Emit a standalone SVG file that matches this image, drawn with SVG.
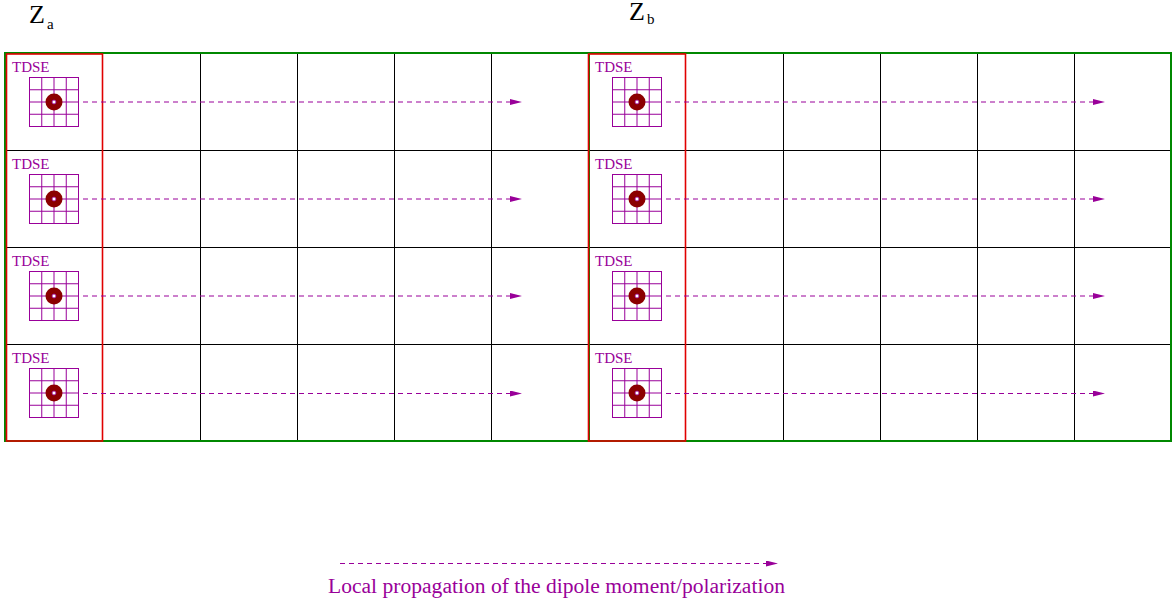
<svg xmlns="http://www.w3.org/2000/svg" width="1172" height="602" viewBox="0 0 1172 602">
  <style>
    .grid { stroke: #000; stroke-width: 1; fill: none; }
    .mesh { stroke: #990099; stroke-width: 1; fill: none; }
    .prop { stroke: #990099; stroke-width: 1; stroke-dasharray: 5 4; fill: none; }
    .atom { fill: #8b0000; }
    .core { fill: #fff; stroke: #990099; stroke-width: 0.8; }
  </style>
  <defs>
    <marker id="head" markerWidth="12" markerHeight="6" refX="0" refY="3" orient="auto" markerUnits="userSpaceOnUse">
      <path d="M0,0 L12,3 L0,6 Z" fill="#990099"/>
    </marker>
    <!-- one TDSE solver cell: label, 4x4 mesh and the atom -->
    <g id="tdse">
      <text x="7" y="19" font-size="15" font-family="'Liberation Serif', 'Times New Roman', serif" fill="#990099">TDSE</text>
      <path class="mesh" d="M24,24.5 h49 M24,36.75 h49 M24,49 h49 M24,61.25 h49 M24,73.5 h49 M24.5,24 v50 M36.75,24 v50 M49,24 v50 M61.25,24 v50 M73.5,24 v50"/>
      <circle class="atom" cx="49" cy="49" r="8.5"/>
      <circle class="core" cx="49" cy="49" r="2"/>
    </g>
  </defs>

  <!-- axis labels -->
  <g id="label-za" font-family="'Liberation Serif', 'Times New Roman', serif" fill="#000">
    <text x="29" y="23" font-size="26">Z</text>
    <text x="47" y="29" font-size="15">a</text>
  </g>
  <g id="label-zb" font-family="'Liberation Serif', 'Times New Roman', serif" fill="#000">
    <text x="629" y="20" font-size="26">Z</text>
    <text x="647" y="24" font-size="15">b</text>
  </g>

  <!-- propagation grid -->
  <g id="grid">
    <path class="grid" d="M5,150.5 H1171 M5,247.5 H1171 M5,344.5 H1171"/>
    <path class="grid" d="M200.5,53 V441 M297.5,53 V441 M394.5,53 V441 M491.5,53 V441 M783.5,53 V441 M880.5,53 V441 M977.5,53 V441 M1074.5,53 V441"/>
    <rect x="5" y="53" width="1166" height="388" fill="none" stroke="#008800" stroke-width="2"/>
    <line x1="589.5" y1="53" x2="589.5" y2="441" stroke="#008800" stroke-width="1"/>
  </g>

  <!-- TDSE columns -->
  <g id="column-za">
    <rect x="6.5" y="54" width="96" height="387" fill="none" stroke="#e00000" stroke-width="1.6"/>
    <use href="#tdse" x="5" y="53"/>
    <use href="#tdse" x="5" y="150"/>
    <use href="#tdse" x="5" y="247"/>
    <use href="#tdse" x="5" y="344"/>
  </g>
  <g id="column-zb">
    <rect x="588.5" y="54" width="97" height="387" fill="none" stroke="#e00000" stroke-width="1.6"/>
    <use href="#tdse" x="588" y="53"/>
    <use href="#tdse" x="588" y="150"/>
    <use href="#tdse" x="588" y="247"/>
    <use href="#tdse" x="588" y="344"/>
  </g>

  <!-- local propagation connectors -->
  <g id="connectors">
    <line class="prop" x1="83" y1="102" x2="510" y2="102" marker-end="url(#head)"/>
    <line class="prop" x1="83" y1="199" x2="510" y2="199" marker-end="url(#head)"/>
    <line class="prop" x1="83" y1="296" x2="510" y2="296" marker-end="url(#head)"/>
    <line class="prop" x1="83" y1="393.5" x2="510" y2="393.5" marker-end="url(#head)"/>
    <line class="prop" x1="666" y1="102" x2="1093" y2="102" marker-end="url(#head)"/>
    <line class="prop" x1="666" y1="199" x2="1093" y2="199" marker-end="url(#head)"/>
    <line class="prop" x1="666" y1="296" x2="1093" y2="296" marker-end="url(#head)"/>
    <line class="prop" x1="666" y1="393.5" x2="1093" y2="393.5" marker-end="url(#head)"/>
  </g>

  <!-- legend -->
  <g id="legend">
    <line class="prop" x1="340" y1="563.5" x2="766" y2="563.5" marker-end="url(#head)"/>
    <text x="328" y="593" font-size="20" textLength="457" lengthAdjust="spacingAndGlyphs" font-family="'Liberation Serif', 'Times New Roman', serif" fill="#990099">Local propagation of the dipole moment/polarization</text>
  </g>
</svg>
